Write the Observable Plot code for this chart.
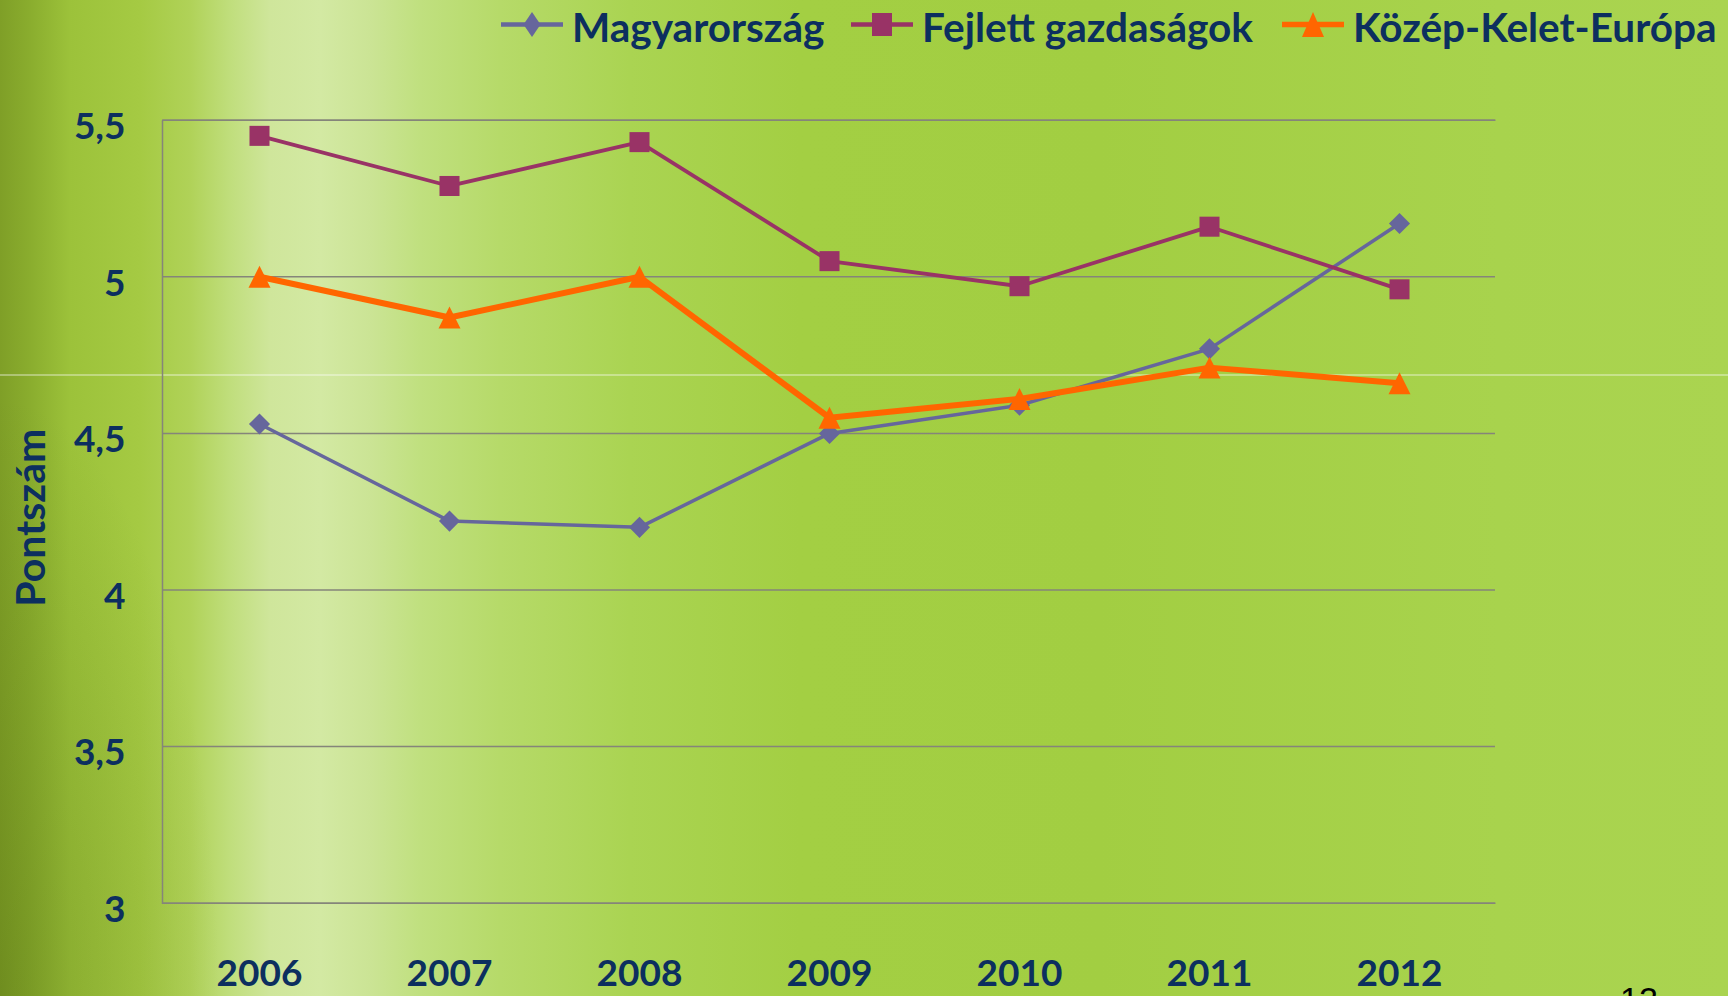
<!DOCTYPE html>
<html>
<head>
<meta charset="utf-8">
<script src="https://cdn.jsdelivr.net/npm/d3@7"></script>
<script src="https://cdn.jsdelivr.net/npm/@observablehq/plot@0.6"></script>
<style>
  html, body { margin: 0; padding: 0; }
  body {
    width: 1728px; height: 996px; overflow: hidden; position: relative;
    font-family: Lato, "Open Sans", sans-serif;
    background:
      radial-gradient(ellipse 220px 600px at 0 100%, rgba(70,95,10,0.28), rgba(70,95,10,0) 100%),
      linear-gradient(to right, #7f9f27 0px, #8aad2e 30px, #9cc23a 70px, #a5ca43 140px, #b0d258 190px, #c0de7c 230px, #cfe69b 270px, #d3e9a3 320px, #cbe495 370px, #c0e07f 420px, #b6da69 500px, #aad452 630px, #a3cf43 800px, #a2ce42 1100px, #a8d34d 1500px, #aad450 1728px);
  }
  #hline { position: absolute; left: 0; top: 374px; width: 1728px; height: 1.5px; background: rgba(255,255,255,0.35); }
  #legend { position: relative; height: 50px; }
  .item { position: absolute; top: 0; height: 50px; display: flex; align-items: center; white-space: nowrap; }
  .item svg { display: block; flex: none; }
  .item span { margin-left: 9px; font-size: 40.5px; font-weight: 700; color: #0c2f5f; line-height: 50px; position: relative; top: 2px; }
  #chart { position: relative; }
  #pagenum { position: absolute; left: 1620px; top: 982px; font-family: "Liberation Sans", Arial, sans-serif; font-size: 34px; line-height: 1; color: #000; }
</style>
</head>
<body>
<div id="hline"></div>
<div id="legend"></div>
<div id="chart"></div>
<div id="pagenum">12</div>
<script>
const years = ["2006", "2007", "2008", "2009", "2010", "2011", "2012"];
const magyarorszag = [4.53, 4.22, 4.20, 4.50, 4.59, 4.77, 5.17];
const fejlettGazdasagok = [5.45, 5.29, 5.43, 5.05, 4.97, 5.16, 4.96];
const kozepKeletEuropa = [5.00, 4.87, 5.00, 4.55, 4.61, 4.71, 4.66];
const seriesNames = ["Magyarország", "Fejlett gazdaságok", "Közép-Kelet-Európa"];
const seriesColors = ["#66669c", "#993366", "#ff6600"];
const yTicks = [3, 3.5, 4, 4.5, 5, 5.5];
const yTitle = "Pontszám";

const navy = "#0c2f5f";
const seriesValues = [magyarorszag, fejlettGazdasagok, kozepKeletEuropa];
const rows = seriesValues.map((vals, s) => years.map((year, i) => ({series: seriesNames[s], year, value: vals[i]})));

const triangleSym = {draw(ctx, size) { const h = Math.sqrt(size); ctx.moveTo(0, -h / 2); ctx.lineTo(h / 2, h / 2); ctx.lineTo(-h / 2, h / 2); ctx.closePath(); }};
const symbols = ["diamond2", "square", triangleSym];
const radii = [9.5, 11.3, 12.4];
const widths = [3.5, 3.8, 6];

// Legend
const legendLeft = [501, 851, 1282];
const legendShapes = [
  (c) => `<path d="M31,2 L39.5,14.5 L31,27 L22.5,14.5 Z" fill="${c}"/>`,
  (c) => `<rect x="21" y="3" width="20" height="23" fill="${c}"/>`,
  (c) => `<path d="M31,2 L42,27 L20,27 Z" fill="${c}"/>`
];
const legend = document.getElementById("legend");
seriesNames.forEach((name, i) => {
  const item = document.createElement("div");
  item.className = "item";
  item.style.left = legendLeft[i] + "px";
  item.innerHTML = `<svg width="62" height="30" viewBox="0 0 62 30"><line x1="0" y1="14.5" x2="62" y2="14.5" stroke="${seriesColors[i]}" stroke-width="${i === 2 ? 5.5 : 4.5}"/>${legendShapes[i](seriesColors[i])}</svg><span>${name}</span>`;
  legend.appendChild(item);
});

const fw = 1333, fh = 783;
const marks = [
  Plot.ruleY(yTicks, {stroke: "#85857a", strokeWidth: 1.5}),
  Plot.frame({stroke: "#85857a", strokeWidth: 1.5, strokeDasharray: `${fw} ${fh} ${fw + fh} 0`}),
  Plot.axisX({tickSize: 0, tickPadding: 57, fontSize: 37, fontWeight: "bold", fill: navy, label: null}),
  Plot.axisY(yTicks, {tickSize: 0, tickPadding: 37, dy: 7, fontSize: 37, fontWeight: "bold", fill: navy, label: null,
    tickFormat: d => String(d).replace(".", ",")}),
  Plot.text([yTitle], {frameAnchor: "left", textAnchor: "middle", dx: -131, dy: 6, rotate: -90, fontSize: 41, fontWeight: "bold", fill: navy, text: d => d})
];
rows.forEach((data, s) => {
  marks.push(Plot.line(data, {x: "year", y: "value", stroke: seriesColors[s], strokeWidth: widths[s]}));
  marks.push(Plot.dot(data, {x: "year", y: "value", fill: seriesColors[s], stroke: "none", symbol: symbols[s], r: radii[s]}));
});

const chart = Plot.plot({
  width: 1728,
  height: 946,
  marginTop: 69.7,
  marginBottom: 93.3,
  marginLeft: 162,
  marginRight: 233,
  style: {background: "transparent", fontFamily: "Lato, 'Open Sans', sans-serif", overflow: "visible"},
  x: {type: "point", domain: years, padding: 0.5},
  y: {domain: [3, 5.5]},
  marks
});
document.getElementById("chart").appendChild(chart);
</script>
</body>
</html>
